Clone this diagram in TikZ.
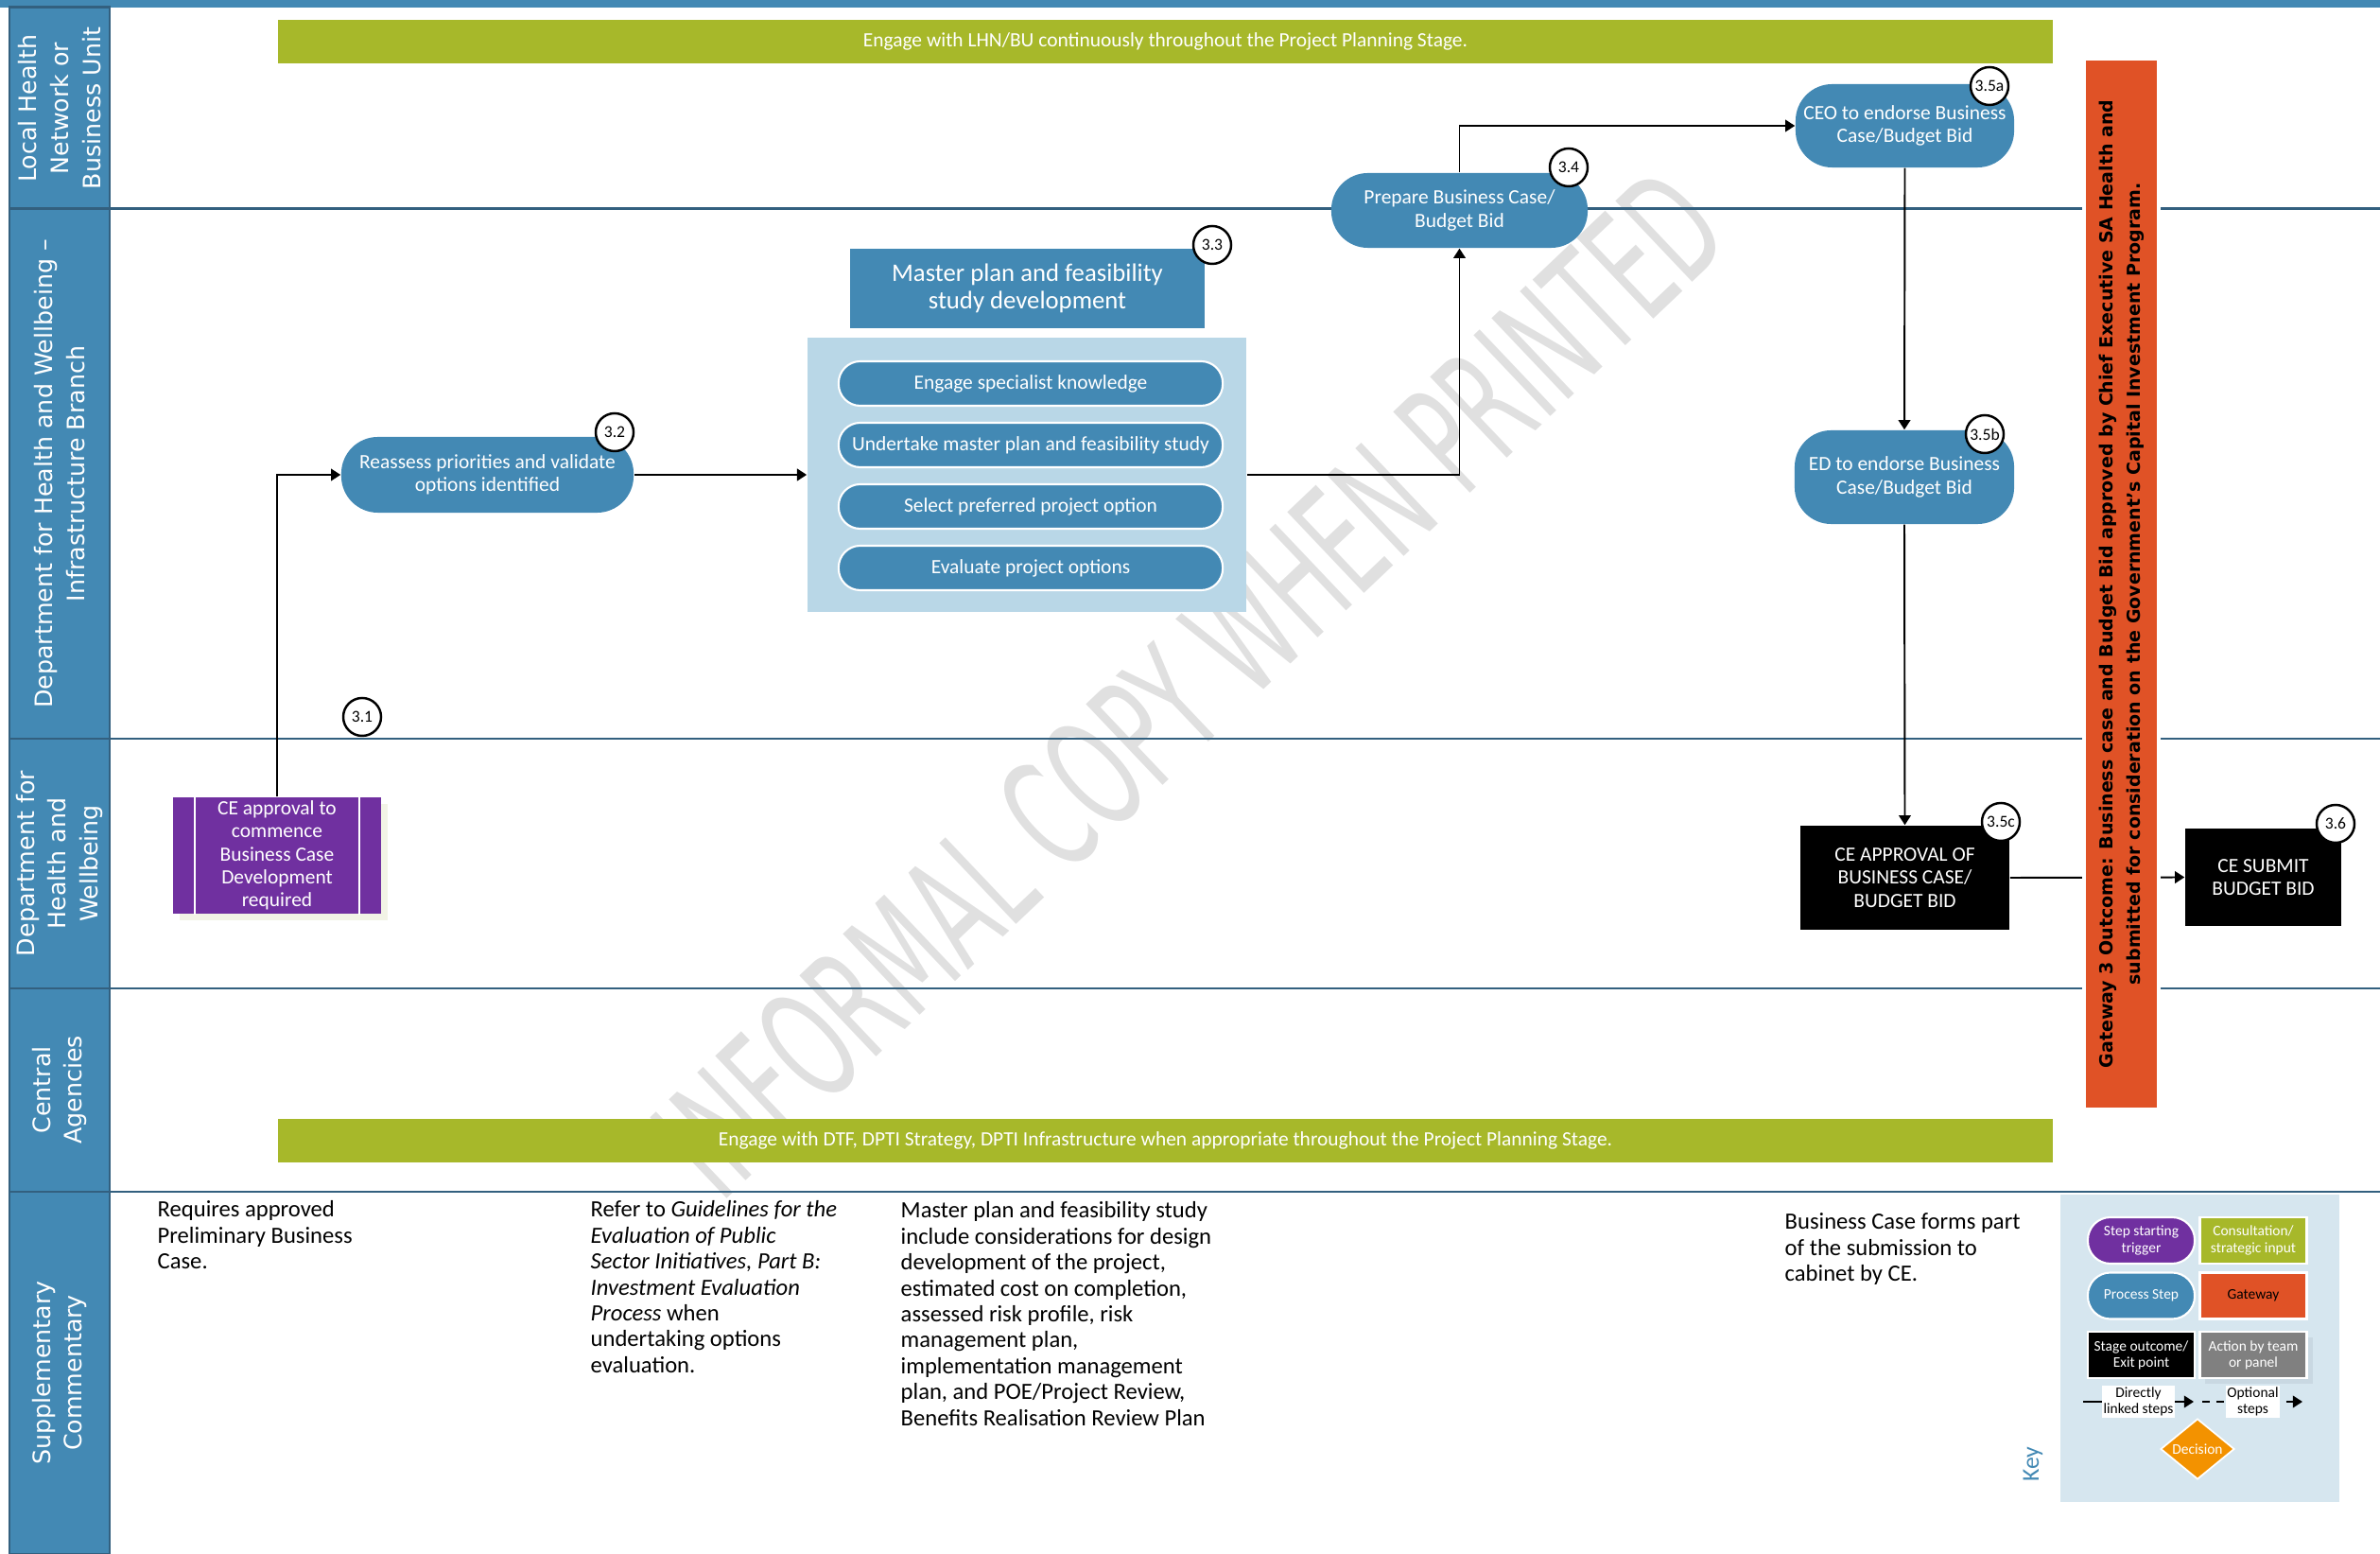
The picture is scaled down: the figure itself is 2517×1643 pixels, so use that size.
\documentclass[tikz,border=0pt]{standalone}
\usepackage{fontspec}
\setmainfont{Carlito}
\newfontfamily\lanefont{DejaVu Sans}
\usetikzlibrary{calc, positioning}
\usetikzlibrary{arrows.meta}
\usetikzlibrary{shapes.geometric}
\usetikzlibrary{shadows}

\definecolor{procblue}{HTML}{4389B4}
\definecolor{laneline}{HTML}{33607F}
\definecolor{consultgreen}{HTML}{A7B82A}
\definecolor{gateorange}{HTML}{E05226}
\definecolor{triggerpurple}{HTML}{7030A0}
\definecolor{subbg}{HTML}{B9D7E7}
\definecolor{keybg}{HTML}{D6E6EF}
\definecolor{decisionorange}{HTML}{F39200}
\definecolor{actiongrey}{HTML}{808080}
\definecolor{creamshadow}{HTML}{F2F3E6}
\definecolor{keyshadow}{HTML}{C9D8E2}

\newcommand{\smallfont}{\fontsize{6.1}{6.9}\selectfont}
\newcommand{\notefont}{\fontsize{7}{7.8}\selectfont}
\newcommand{\keyfont}{\fontsize{4.4}{4.9}\selectfont}

\begin{document}
\begin{tikzpicture}[x=0.01cm,y=-0.01cm,
  conn/.style={line width=0.55pt,-{Triangle[length=2.9pt,width=3.6pt]}},
  procstep/.style={rectangle,rounded corners=11pt,fill=procblue,text=white,
    align=center,font=\smallfont,inner sep=0.5pt},
  substep/.style={procstep,rounded corners=6.5pt,draw=white,line width=0.6pt,
    minimum width=4.06cm,minimum height=0.47cm},
  exitbox/.style={rectangle,fill=black,text=white,align=center,font=\smallfont},
  stepno/.style={circle,draw=black,line width=0.7pt,fill=white,
    minimum size=0.4cm,inner sep=0pt,font=\fontsize{5}{5}\selectfont},
  consultbar/.style={rectangle,fill=consultgreen,text=white,font=\smallfont,
    minimum width=18.75cm,minimum height=0.46cm},
  lanehead/.style={rotate=90,text=white,align=center,
    font=\lanefont\fontsize{7.2}{9.6}\selectfont},
  note/.style={anchor=north west,inner sep=0pt,align=left,font=\notefont},
  keyitem/.style={text=white,align=center,font=\keyfont,draw=white,
    line width=0.6pt,minimum width=1.13cm,minimum height=0.49cm,inner sep=0pt},
  keylabel/.style={fill=white,inner sep=0.5pt,align=center,font=\keyfont}
]
\path[use as bounding box] (0,0) rectangle (2517,1643);

% lanes
\fill[procblue] (0,0) rectangle (2517,8);
\foreach \ya/\yb/\lbl [count=\i] in {
  8/221/{Local Health\\Network or\\Business Unit},
  221/781/{Department for Health and Wellbeing –\\Infrastructure Branch},
  781/1045/{Department for\\Health and\\Wellbeing},
  1045/1260/{Central\\Agencies},
  1260/1643/{Supplementary\\Commentary}}{
  \draw[laneline,line width=0.85pt,fill=procblue] (10,\ya) rectangle (116,\yb);
  \node[lanehead] (lane\i) at (63,{(\ya+\yb)/2}) {\lbl};
}

% watermark
\node[rotate=43.5,text=black!12,font=\lanefont\fontsize{46}{46}\selectfont,inner sep=0pt]
  (watermark) at (1258,722) {\scalebox{0.56}[1]{INFORMAL COPY WHEN PRINTED}};

\foreach \y in {221,781,1045,1260}
  \draw[laneline,line width=0.85pt] (116,\y) -- (2517,\y);

% consultation bars
\node[consultbar] (lhnbar) at (1232.5,44)
  {Engage with LHN/BU continuously throughout the Project Planning Stage.};
\node[consultbar] (cabar) at (1232.5,1206)
  {Engage with DTF, DPTI Strategy, DPTI Infrastructure when appropriate throughout the Project Planning Stage.};

% steps
\node[rectangle,fill=triggerpurple,text=white,align=center,font=\smallfont,
  minimum width=2.2cm,minimum height=1.23cm,inner sep=0pt,
  drop shadow={shadow xshift=0.07cm,shadow yshift=-0.07cm,fill=creamshadow,opacity=1}]
  (trigger) at (293,904.5)
  {CE approval to\\commence\\Business Case\\Development\\required};
\draw[white,line width=0.6pt] ([xshift=0.24cm]trigger.north west) -- ([xshift=0.24cm]trigger.south west);
\draw[white,line width=0.6pt] ([xshift=-0.24cm]trigger.north east) -- ([xshift=-0.24cm]trigger.south east);

\node[procstep,minimum width=3.09cm,minimum height=0.8cm] (reassess) at (515.5,502)
  {Reassess priorities and validate\\options identified};

\node[rectangle,fill=procblue,text=white,align=center,
  font=\fontsize{7.6}{8.3}\selectfont,minimum width=3.75cm,minimum height=0.84cm]
  (mphead) at (1086.5,305) {Master plan and feasibility\\study development};
\node[rectangle,fill=subbg,minimum width=4.64cm,minimum height=2.90cm] (subbox) at (1086,502) {};
\foreach \y/\txt [count=\i] in {405.5/Engage specialist knowledge,
  470.5/Undertake master plan and feasibility study,
  535.5/Select preferred project option,
  600.5/Evaluate project options}
  \node[substep] (sub\i) at (1090,\y) {\txt};

\node[procstep,minimum width=2.71cm,minimum height=0.79cm] (prepare) at (1543.5,222.5)
  {Prepare Business Case/\\Budget Bid};
\node[procstep,minimum width=2.31cm,minimum height=0.88cm] (ceo) at (2014.5,133)
  {CEO to endorse Business\\Case/Budget Bid};
\node[procstep,minimum width=2.32cm,minimum height=0.99cm] (ed) at (2014,504.5)
  {ED to endorse Business\\Case/Budget Bid};
\node[exitbox,minimum width=2.21cm,minimum height=1.10cm] (approve) at (2014.5,928)
  {CE APPROVAL OF\\BUSINESS CASE/\\BUDGET BID};
\node[exitbox,minimum width=1.65cm,minimum height=1.03cm] (submit) at (2393.5,927.5)
  {CE SUBMIT\\BUDGET BID};

% connectors
\draw[conn] (trigger.north) |- (reassess.west);
\draw[conn] (reassess.east) -- (subbox.west);
\draw[conn] (subbox.east) -| (prepare.south);
\draw[conn] (prepare.north) |- (ceo.west);
\draw[conn] (ceo.south) -- (ed.north);
\draw[conn] (ed.south) -- (approve.north);
\draw[conn] (approve.east) -- (submit.west);

% gateway
\node[rectangle,rotate=90,fill=gateorange,draw=white,line width=1.2pt,
  minimum width=11.11cm,minimum height=0.79cm,inner sep=0pt,align=center,
  font=\lanefont\bfseries\fontsize{5.4}{8.2}\selectfont] (gate) at (2243.5,617.5)
  {Gateway 3 Outcome: Business case and Budget Bid approved by Chief Executive SA Health and\\
   submitted for consideration on the Government’s Capital Investment Program.};

% step numbers
\node[stepno] (no31) at (383,758) {3.1};
\node[stepno] (no32) at (650,457) {3.2};
\node[stepno] (no33) at (1282,259) {3.3};
\node[stepno] (no34) at (1659,177) {3.4};
\node[stepno] (no35a) at (2104,91) {3.5a};
\node[stepno] (no35b) at (2099,459) {3.5b};
\node[stepno] (no35c) at (2116,869) {3.5c};
\node[stepno] (no36) at (2470,871) {3.6};

% commentary
\node[note] (note31) at (166,1269) {Requires approved\\Preliminary Business\\Case.};
\node[note] (note32) at (624,1269) {Refer to \textit{Guidelines for the}\\\textit{Evaluation of Public}\\
  \textit{Sector Initiatives, Part B:}\\\textit{Investment Evaluation}\\\textit{Process} when\\
  undertaking options\\evaluation.};
\node[note] (note33) at (952,1270) {Master plan and feasibility study\\include considerations for design\\
  development of the project,\\estimated cost on completion,\\assessed risk profile, risk\\
  management plan,\\implementation management\\plan, and POE/Project Review,\\
  Benefits Realisation Review Plan};
\node[note] (note35) at (1887,1282) {Business Case forms part\\of the submission to\\cabinet by CE.};

% key
\node[rectangle,fill=keybg,minimum width=2.95cm,minimum height=3.25cm] (keybox) at (2326.5,1425.5) {};
\node[rotate=90,text=procblue,font=\fontsize{7.3}{7.3}\selectfont] (keylbl) at (2150,1548) {Key};
\node[keyitem,rounded corners=6.8pt,fill=triggerpurple] (ktrigger) at (2264.5,1311.5) {Step starting\\trigger};
\node[keyitem,fill=consultgreen] (kconsult) at (2383,1311.5) {Consultation/\\strategic input};
\node[keyitem,rounded corners=6.8pt,fill=procblue] (kproc) at (2264.5,1370) {Process Step};
\node[keyitem,fill=gateorange,text=black] (kgate) at (2383,1370) {Gateway};
\node[keyitem,fill=black] (kexit) at (2264.5,1432.5) {Stage outcome/\\Exit point};
\node[keyitem,fill=actiongrey,
  drop shadow={shadow xshift=0.06cm,shadow yshift=-0.06cm,fill=keyshadow,opacity=1}]
  (kaction) at (2383,1432.5) {Action by team\\or panel};
\coordinate (kline1a) at (2203,1482);
\coordinate (kline1b) at (2320,1482);
\coordinate (kline2a) at (2329,1482);
\coordinate (kline2b) at (2435,1482);
\draw[conn] (kline1a) -- (kline1b);
\draw[conn,dash pattern=on 2.2pt off 2pt] (kline2a) -- (kline2b);
\node[keylabel] (kdirect) at (2261.5,1482) {Directly\\linked steps};
\node[keylabel] (koptional) at (2382.5,1482) {Optional\\steps};
\node[diamond,fill=decisionorange,draw=white,line width=0.5pt,text=white,font=\keyfont,
  inner sep=0pt,minimum width=0.78cm,minimum height=0.62cm] (kdecision) at (2324,1532) {Decision};
\end{tikzpicture}
\end{document}
